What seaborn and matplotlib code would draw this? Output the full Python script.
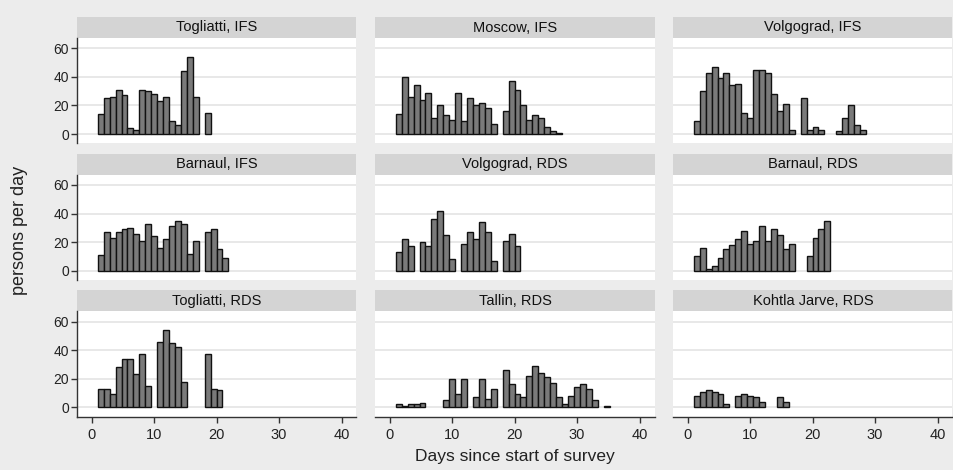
import pandas as pd
import seaborn as sns
import matplotlib.pyplot as plt
from matplotlib.patches import Rectangle

# persons per day, one value per histogram bin (0 = empty bin)
panels = ["Togliatti, IFS", "Moscow, IFS", "Volgograd, IFS",
          "Barnaul, IFS", "Volgograd, RDS", "Barnaul, RDS",
          "Togliatti, RDS", "Tallin, RDS", "Kohtla Jarve, RDS"]

togliatti_ifs = [14, 25, 26, 31, 27, 4, 3, 31, 30, 28, 23, 26, 9, 6, 44, 54, 26, 0, 15]
moscow_ifs = [14, 40, 26, 34, 24, 29, 11, 20, 13, 10, 29, 9, 25, 20, 22, 18, 7, 0,
              16, 37, 31, 20, 10, 13, 11, 5, 2, 1]
volgograd_ifs = [9, 30, 43, 47, 39, 43, 34, 35, 15, 11, 45, 45, 43, 28, 16, 21, 3, 0,
                 25, 3, 5, 3, 0, 0, 2, 11, 20, 6, 3]
barnaul_ifs = [11, 27, 23, 27, 29, 30, 26, 21, 33, 24, 16, 22, 31, 35, 33, 12, 21, 0,
               27, 29, 15, 9]
volgograd_rds = [13, 22, 17, 0, 20, 17, 36, 42, 25, 8, 0, 19, 27, 22, 34, 27, 7, 0,
                 21, 26, 17]
barnaul_rds = [10, 16, 1, 3, 9, 15, 18, 22, 28, 19, 21, 31, 21, 29, 25, 15, 19, 0, 0,
               10, 23, 29, 35]
togliatti_rds = [13, 13, 9, 28, 34, 34, 23, 37, 15, 0, 46, 54, 45, 42, 18, 0, 0, 0,
                 37, 13, 12]
tallin_rds = [2, 1, 2, 2, 3, 0, 0, 0, 5, 20, 9, 20, 0, 7, 20, 6, 13, 0,
              26, 16, 9, 7, 22, 29, 24, 21, 17, 7, 2, 8, 14, 16, 13, 5, 0, 1]
kohtla_jarve_rds = [8, 11, 12, 11, 9, 2, 0, 8, 9, 8, 7, 4, 0, 0, 7, 4]

counts = [togliatti_ifs, moscow_ifs, volgograd_ifs,
          barnaul_ifs, volgograd_rds, barnaul_rds,
          togliatti_rds, tallin_rds, kohtla_jarve_rds]

y_ticks = [0, 20, 40, 60]
x_ticks = [0, 10, 20, 30, 40]

BIN_W = 0.95   # histogram bin width in days, first bin starts at day 1

rows = []
for name, vals in zip(panels, counts):
    for k, v in enumerate(vals):
        rows.append({"panel": name, "day": 1 + k * BIN_W, "count": v})
df = pd.DataFrame(rows)
df = df[df["count"] > 0]

sns.set_style("white")
plt.rcParams["font.family"] = ["Liberation Sans", "DejaVu Sans"]

g = sns.FacetGrid(df, col="panel", col_wrap=3, col_order=panels,
                  sharex=True, sharey=True, despine=False)


def draw_bars(data, **kws):
    plt.bar(data["day"], data["count"], width=BIN_W, align="edge",
            color="#7a7a7a", edgecolor="#111111", linewidth=1.0, zorder=3)


g.map_dataframe(draw_bars)

fig = g.figure
fig.set_size_inches(9.54, 4.7)
fig.set_facecolor("#ececec")

W, H = 954, 470
col_left = [77.5, 375.5, 673.5]
row_top = [38, 174.7, 311.3]
pw, ph = 279, 105.3
strip_h = 21

for i, ax in enumerate(g.axes.flat):
    r, c = divmod(i, 3)
    ax.set_position([col_left[c] / W, 1 - (row_top[r] + ph) / H, pw / W, ph / H])
    ax.set_facecolor("white")
    ax.set_xlim(-2.25, 42.4)
    ax.set_ylim(-6.5, 67.2)
    ax.set_title("")
    ax.set_xlabel("")
    ax.set_ylabel("")
    for y in y_ticks:
        ax.axhline(y, color="#e2e2e2", linewidth=1.1, zorder=1)
    for s in ["top", "right"]:
        ax.spines[s].set_visible(False)
    ax.spines["left"].set_visible(c == 0)
    ax.spines["bottom"].set_visible(r == 2)
    for s in ["left", "bottom"]:
        ax.spines[s].set_color("#333333")
        ax.spines[s].set_linewidth(1.0)
    ax.set_yticks(y_ticks)
    ax.set_xticks(x_ticks)
    ax.tick_params(axis="y", left=(c == 0), labelleft=(c == 0), length=4,
                   width=1, color="#333333", labelsize=10, labelcolor="#222222", pad=2)
    ax.tick_params(axis="x", bottom=(r == 2), labelbottom=(r == 2), length=4,
                   width=1, color="#333333", labelsize=10.5, labelcolor="#222222", pad=4)
    # strip title
    ax.add_patch(Rectangle((0, 1), 1, strip_h / ph, transform=ax.transAxes,
                           facecolor="#d4d4d4", edgecolor="none", clip_on=False))
    ax.text(0.5, 1 + strip_h / ph / 2, panels[i], transform=ax.transAxes,
            ha="center", va="center", fontsize=10.5, color="#111111")

fig.text(20 / W, 1 - 230 / H, "persons per day", rotation=90,
         ha="center", va="center", fontsize=13, color="#222222")
fig.text(515 / W, 1 - 457 / H, "Days since start of survey",
         ha="center", va="center", fontsize=12.5, color="#222222")

fig.savefig("out.png", dpi=100, facecolor=fig.get_facecolor())
